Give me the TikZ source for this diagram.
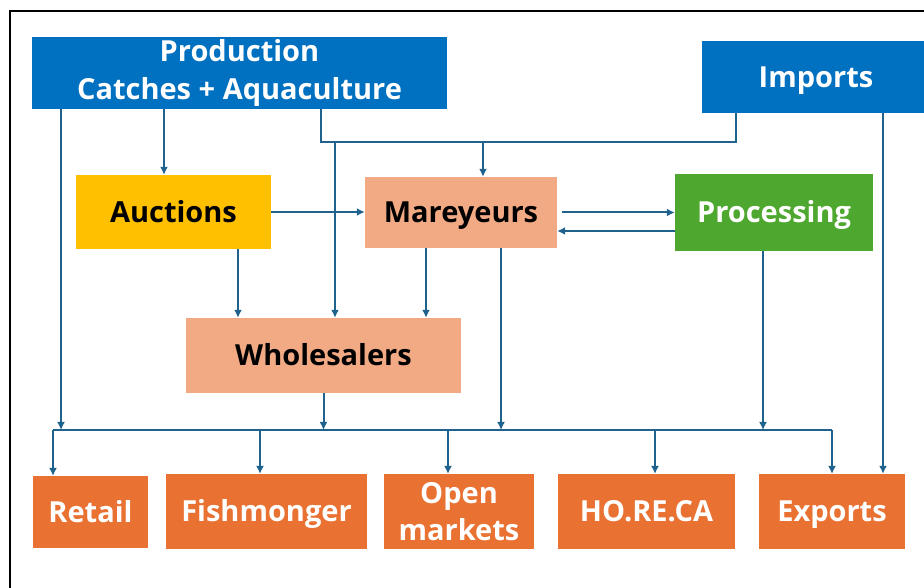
\documentclass[tikz,border=0pt]{standalone}
\usepackage{fontspec}
\setmainfont{Open Sans}
\usetikzlibrary{arrows.meta}
\definecolor{prodblue}{HTML}{0070C0}
\definecolor{aucgold}{HTML}{FFC000}
\definecolor{peach}{HTML}{F2AA84}
\definecolor{procgreen}{HTML}{4EA72E}
\definecolor{outorange}{HTML}{E97132}
\definecolor{linkblue}{HTML}{1F628E}
\tikzset{
  box/.style={minimum width=#1, minimum height=75pt, inner sep=0pt, align=center,
    font=\bfseries\fontsize{29}{37.5}\selectfont},
  oneline/.style={text height=26pt, text depth=5.3pt},
  outlet/.style={box=#1, fill=outorange, text=white},
  link/.style={draw=linkblue, line width=2pt},
  flow/.style={link, ->},
  drop/.style={draw=linkblue, line width=1.3pt, ->},
}
\begin{document}
\begin{tikzpicture}[x=1pt, y=1pt, >={Latex[length=8pt,width=8pt]}]
\clip (0,0) rectangle (924,587);
\draw[line width=1.5pt] (10,-2) -- (10,576) -- (926,576);

% sources
\node[box=415pt, fill=prodblue, text=white, minimum height=72pt] (prod) at (239.5,514) {Production\\Catches + Aquaculture};
\node[box=228pt, fill=prodblue, text=white, minimum height=72pt, oneline] (imp) at (816,510) {Imports};

% trade
\node[box=195pt, fill=aucgold, minimum height=74pt, oneline] (auc) at (173.5,375) {Auctions};
\node[box=192pt, fill=peach, minimum height=71pt, oneline] (mar) at (461,374.5) {Mareyeurs};
\node[box=198pt, fill=procgreen, text=white, minimum height=77pt, oneline] (proc) at (774,374.5) {Processing};
\node[box=275pt, fill=peach, oneline] (whl) at (323.5,231.5) {Wholesalers};

% outlets
\node[outlet=115pt, minimum height=72pt, oneline] (ret) at (90.5,75) {Retail};
\node[outlet=201pt, oneline] (fish) at (266.5,75.5) {Fishmonger};
\node[outlet=150pt] (open) at (459,75.5) {Open\\markets};
\node[outlet=177pt, oneline] (horeca) at (646.5,75.5) {HO.RE.CA};
\node[outlet=146pt, oneline] (exp) at (832,75.5) {Exports};

\coordinate (tee) at (483,445);
\coordinate (teeW) at (335,445);
\coordinate (bus) at (53,157);
\coordinate (busE) at (832,157);

\draw[link] ([xshift=81.5pt]prod.south) |- (tee) -| ([xshift=-80pt]imp.south);
\draw[flow] (tee) -- (tee |- mar.north);
\draw[flow] (teeW) -- (teeW |- whl.north);
\draw[flow] ([xshift=-75.5pt]prod.south) -- ([xshift=-75.5pt]prod.south |- auc.north);
\draw[flow] ([xshift=-178.5pt]prod.south) -- ([xshift=-178.5pt]prod.south |- bus);
\draw[flow] (auc.east) -- (auc.east -| mar.west);
\draw[flow, shorten <=5pt] (mar.east) -- (mar.east -| proc.west);
\draw[flow] ([yshift=-18.5pt]proc.west) -- ([yshift=-18.5pt]proc.west -| mar.east);
\draw[flow] ([xshift=64.5pt]auc.south) -- ([xshift=64.5pt]auc.south |- whl.north);
\draw[flow] ([xshift=-35pt]mar.south) -- ([xshift=-35pt]mar.south |- whl.north);
\draw[flow] ([xshift=40pt]mar.south) -- ([xshift=40pt]mar.south |- bus);
\draw[flow] ([xshift=-11pt]proc.south) -- ([xshift=-11pt]proc.south |- bus);
\draw[flow] (whl.south) -- (whl.south |- bus);
\draw[flow] ([xshift=67pt]imp.south) -- ([xshift=67pt]imp.south |- exp.north);

% distribution bus
\draw[link] (bus) -- (busE);
\foreach \n/\d in {ret/-37.5, fish/-6.5, open/-11, horeca/8.5, exp/0}
  \draw[drop] ([xshift=\d pt]\n.north |- bus) -- ([xshift=\d pt]\n.north);
\end{tikzpicture}
\end{document}
